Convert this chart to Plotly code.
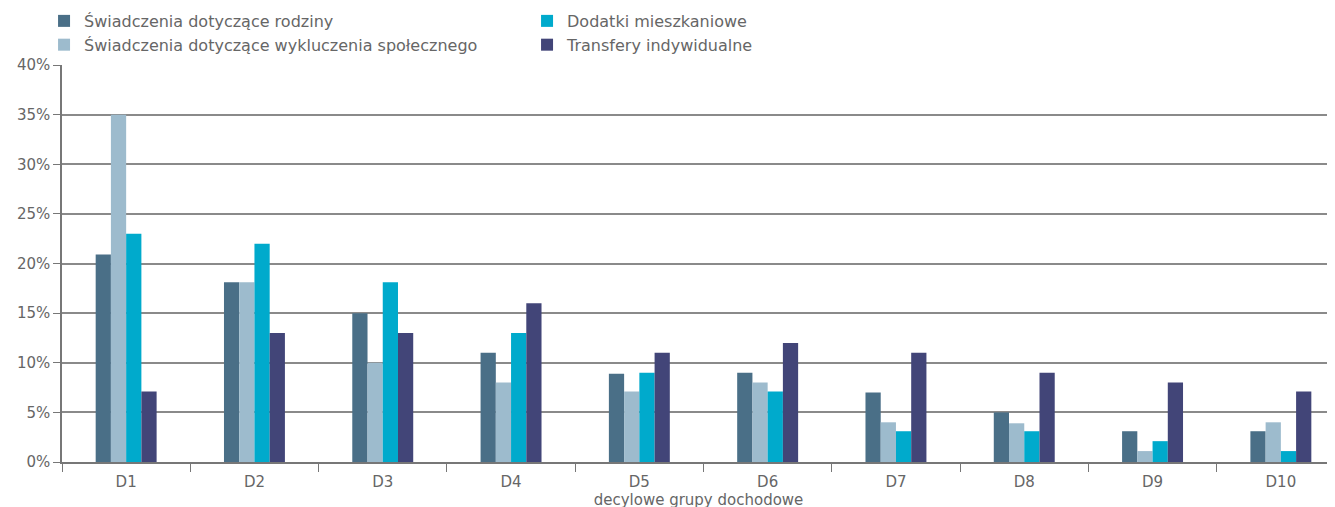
import plotly.graph_objects as go

categories = ["D1", "D2", "D3", "D4", "D5", "D6", "D7", "D8", "D9", "D10"]
rodziny = [20.9, 18.1, 15.0, 11.0, 8.9, 9.0, 7.0, 5.0, 3.1, 3.1]
wykluczenie = [35.0, 18.1, 10.0, 8.0, 7.1, 8.0, 4.0, 3.9, 1.1, 4.0]
dodatki = [23.0, 22.0, 18.1, 13.0, 9.0, 7.1, 3.1, 3.1, 2.1, 1.1]
transfery = [7.1, 13.0, 13.0, 16.0, 11.0, 12.0, 11.0, 9.0, 8.0, 7.1]

series = [
    ("Świadczenia dotyczące rodziny", rodziny, "#4a6f87", 1),
    ("Świadczenia dotyczące wykluczenia społecznego", wykluczenie, "#9dbbcd", 3),
    ("Dodatki mieszkaniowe", dodatki, "#00aacc", 2),
    ("Transfery indywidualne", transfery, "#424578", 4),
]

fig = go.Figure()
for name, vals, color, rank in series:
    fig.add_trace(go.Bar(x=categories, y=[v / 100 for v in vals], name=name,
                         marker=dict(color=color, line=dict(width=0)),
                         legendrank=rank))

font = "DejaVu Sans, Liberation Sans, sans-serif"
txt = "#666666"
fig.update_layout(
    width=1335, height=507,
    margin=dict(l=54, r=8, t=57, b=53, autoexpand=False),
    paper_bgcolor="white", plot_bgcolor="white",
    barmode="group", bargap=0.525, bargroupgap=0,
    font=dict(family=font, size=15, color=txt),
    legend=dict(orientation="h", xref="container", x=0.027, xanchor="left",
                yref="paper", y=1.1537, yanchor="top",
                entrywidth=438, traceorder="normal", font=dict(size=16, color=txt),
                itemsizing="constant", tracegroupgap=0, bgcolor="rgba(0,0,0,0)"),
    xaxis=dict(range=[-0.5, 9.422], tickson="boundaries", ticks="outside", ticklen=8,
               tickcolor="#777777",
               showline=True, linecolor="#777777", linewidth=1.5, showgrid=False,
               automargin=False, ticklabelstandoff=5,
               tickfont=dict(size=15, color=txt),
               title=dict(text="decylowe grupy dochodowe", standoff=0, font=dict(size=15, color=txt))),
    yaxis=dict(range=[0, 0.4], dtick=0.05, tickformat=".0%", ticks="outside", ticklen=7,
               tickcolor="#777777", showline=True, linecolor="#777777", linewidth=1.5,
               showgrid=True, gridcolor="#8a8a8a", gridwidth=1.5, zeroline=False,
               automargin=False,
               tickfont=dict(size=15, color=txt)),
)

fig.write_html("out.html")
